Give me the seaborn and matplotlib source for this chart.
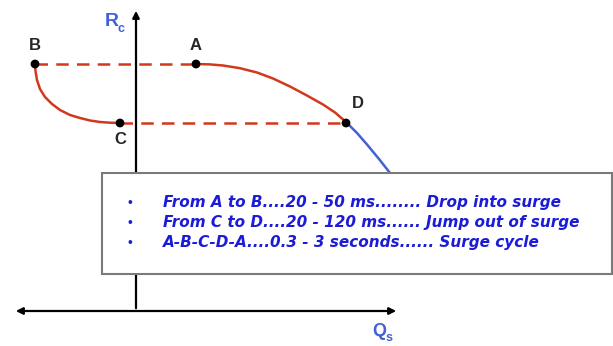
import numpy as np
import pandas as pd
import seaborn as sns
import matplotlib.pyplot as plt
from matplotlib.patches import Rectangle

sns.set_style("white")
plt.rcParams['font.family'] = ['Liberation Sans', 'DejaVu Sans']

# compressor map, origin where the Qs and Rc axes cross
# operating line A -> D (red part, stable)
ad_q = [60, 74, 87, 104, 121, 137, 154, 170, 187, 199, 210]
ad_r = [247, 246.6, 245.5, 242.8, 238.5, 232.5, 224.5, 216, 206.5, 198.5, 189]
# continuation past D (blue part)
dn_q = [210, 221, 231, 243, 254, 264]
dn_r = [189, 178, 166.5, 152, 138, 125]
# surge branch B -> C
bc_q = [-101, -100.5, -99, -96, -91, -84, -76, -66, -56, -46, -36, -26, -16]
bc_r = [247, 240, 231, 222, 214, 207, 201, 196, 193, 190.5, 189, 188.3, 188]

points = ["A", "B", "C", "D"]
pt_q = [60, -101, -16, 210]
pt_r = [247, 247, 188, 188]

notes = [
    "From A to B....20 - 50 ms........ Drop into surge",
    "From C to D....20 - 120 ms...... Jump out of surge",
    "A-B-C-D-A....0.3 - 3 seconds...... Surge cycle",
]

red = "#d2381c"
blue = "#4460d8"
txt_blue = "#1c1cd8"

fig = plt.figure(figsize=(6.13, 3.46), dpi=100)
ax = fig.add_axes([0, 0, 1, 1])
ax.set_xlim(-136, 477)
ax.set_ylim(-35, 311)
ax.axis("off")

# axes with arrows
ax.annotate("", xy=(0, 303), xytext=(0, 0),
            arrowprops=dict(arrowstyle="-|>", color="black", lw=1.6, mutation_scale=10))
ax.annotate("", xy=(263, 0), xytext=(-123, 0),
            arrowprops=dict(arrowstyle="<|-|>", color="black", lw=1.6, mutation_scale=10))
ax.text(-31, 289, "R", color=blue, fontsize=14, fontweight="bold", va="center", ha="left")
ax.text(-18, 282, "c", color=blue, fontsize=9, fontweight="bold", va="center", ha="left")
ax.text(236, -20, "Q", color=blue, fontsize=13, fontweight="bold", va="center", ha="left")
ax.text(250, -27, "s", color=blue, fontsize=9, fontweight="bold", va="center", ha="left")

# surge cycle curves
sns.lineplot(x=dn_q, y=dn_r, color=blue, lw=1.8, sort=False, ax=ax, zorder=2)
sns.lineplot(x=ad_q, y=ad_r, color=red, lw=1.8, sort=False, ax=ax, zorder=3)
sns.lineplot(x=bc_q, y=bc_r, color=red, lw=1.8, sort=False, ax=ax, zorder=3)
ax.plot([pt_q[1], pt_q[0]], [pt_r[1], pt_r[0]], color=red, lw=1.8, ls=(0, (5, 3.3)), zorder=3)
ax.plot([pt_q[2], pt_q[3]], [pt_r[2], pt_r[3]], color=red, lw=1.8, ls=(0, (5, 3.3)), zorder=3)

sns.scatterplot(x=pt_q, y=pt_r, color="black", s=40, edgecolor="none", ax=ax, zorder=5)
offsets = {"A": (0, 19), "B": (0, 19), "C": (0, -16), "D": (12, 19)}
for name, q, r in zip(points, pt_q, pt_r):
    dx, dy = offsets[name]
    ax.text(q + dx, r + dy, name, fontsize=12, fontweight="bold", ha="center", va="center")

# note box
ax.add_patch(Rectangle((-34, 37), 510, 101, facecolor="white", edgecolor="#7a7a7a",
                       lw=1.5, zorder=6))
for i, line in enumerate(notes):
    y = 108 - i * 20
    ax.text(-6, y, "\u2022", color=txt_blue, fontsize=10, ha="center", va="center", zorder=7)
    ax.text(27, y, line, color=txt_blue, fontsize=11, fontweight="bold", fontstyle="italic",
            family=["DejaVu Sans"], ha="left", va="center", zorder=7)

fig.savefig("out.png", dpi=100)
